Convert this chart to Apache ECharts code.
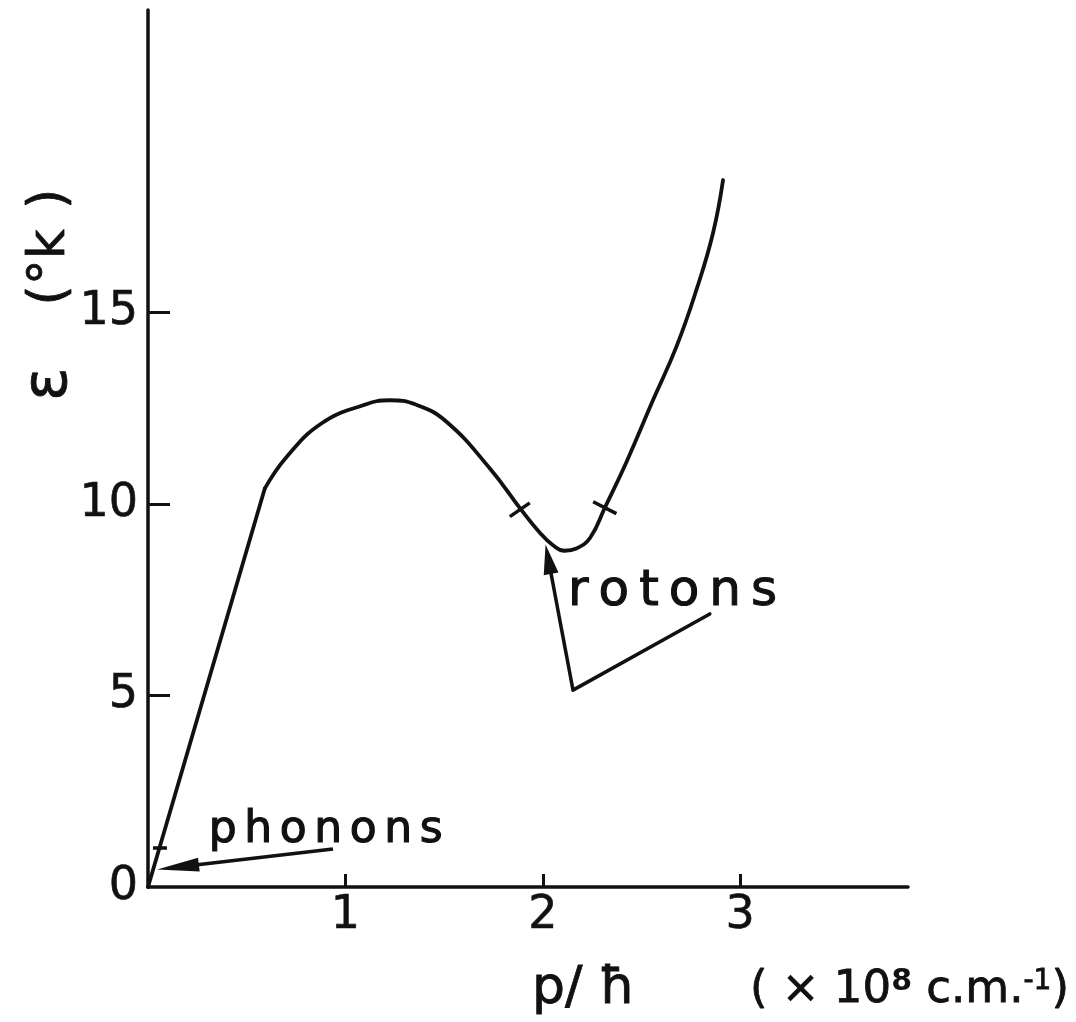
<!DOCTYPE html>
<html>
<head>
<meta charset="utf-8">
<script src="https://cdn.jsdelivr.net/npm/echarts@6.0.0/dist/echarts.min.js"></script>
<style>
  html, body { margin: 0; padding: 0; background: #ffffff; }
  #chart { width: 1076px; height: 1022px; }
</style>
</head>
<body>
<div id="chart"></div>
<script>
// Excitation spectrum of liquid helium: energy (°K) against wave number p/ħ (×10^8 cm^-1)

// Linear phonon branch, from the origin up to where the curve bends over
const phononBranch = [[0, 0], [0.592, 10.41]];

// Maxon peak, roton minimum and the rise beyond it
const rotonBranch = [
  [0.592, 10.41], [0.702, 11.23], [0.880, 12.11], [1.090, 12.58],
  [1.225, 12.71], [1.360, 12.59], [1.512, 12.15], [1.732, 10.93],
  [1.892, 9.84], [1.985, 9.25], [2.050, 8.93], [2.110, 8.78],
  [2.170, 8.84], [2.240, 9.12], [2.314, 9.90], [2.424, 11.10],
  [2.559, 12.72], [2.677, 14.11], [2.778, 15.59], [2.862, 17.07],
  [2.913, 18.46]
];

// Axis ticks and labels
const xTickValues = [1, 2, 3];
const yTickValues = [5, 10, 15];
const yLabelValues = [0, 5, 10, 15];

// Pointer lines (start, arrow-head centre) in data units
const phononArrow = [[0.937, 0.99], [0.152, 0.52]];
const rotonArrow = [[2.153, 5.14], [2.028, 8.56]];
const rotonLeader = [[2.153, 5.14], [2.846, 7.13]];

// Short strokes crossing the curve
const curveStrokes = [
  [[1.833, 9.67], [1.934, 10.03]],
  [[2.255, 10.06], [2.373, 9.75]],
  [[0.025, 1.02], [0.096, 1.02]]
];

// Axis ranges
const xMax = 3.85;
const yMax = 22.9;

const INK = '#111111';
const FONT = "'DejaVu Sans', 'Noto Sans', sans-serif";

function spaced(word, style) {
  return word.split('').map(function (c) { return '{' + style + '|' + c + '}'; }).join('');
}

function segment(pair) {
  return [{ coord: pair[0] }, { coord: pair[1] }];
}

const chart = echarts.init(document.getElementById('chart'), null, { renderer: 'canvas' });

const option = {
  backgroundColor: '#ffffff',
  animation: false,
  grid: {
    left: 148, right: 168, top: 10, bottom: 135,
    containLabel: false,
    outerBoundsMode: 'none'
  },
  xAxis: {
    type: 'value',
    min: 0,
    max: xMax,
    axisLine: { show: true, onZero: false, lineStyle: { color: INK, width: 3.5, cap: 'round' } },
    axisTick: {
      show: true, inside: true, length: 13, customValues: xTickValues,
      lineStyle: { color: INK, width: 3 }
    },
    axisLabel: {
      show: true, customValues: xTickValues, margin: 6,
      color: INK, fontFamily: FONT, fontSize: 46,
      textBorderColor: INK, textBorderWidth: 0.6
    },
    splitLine: { show: false }
  },
  yAxis: {
    type: 'value',
    min: 0,
    max: yMax,
    axisLine: { show: true, onZero: false, lineStyle: { color: INK, width: 3.5, cap: 'round' } },
    axisTick: {
      show: true, inside: true, length: 22, customValues: yTickValues,
      lineStyle: { color: INK, width: 3 }
    },
    axisLabel: {
      show: true, customValues: yLabelValues, margin: 10,
      color: INK, fontFamily: FONT, fontSize: 46,
      textBorderColor: INK, textBorderWidth: 0.6,
      padding: [10, 0, 0, 0]
    },
    splitLine: { show: false }
  },
  series: [
    {
      name: 'phonons',
      type: 'line',
      data: phononBranch,
      showSymbol: false,
      silent: true,
      lineStyle: { color: INK, width: 3.8, cap: 'round', join: 'round' },
      markLine: {
        silent: true,
        symbol: ['none', 'triangle'],
        symbolSize: [14, 42],
        label: { show: false },
        lineStyle: { color: INK, width: 3.5, type: 'solid' },
        emphasis: { disabled: true },
        data: [segment(phononArrow)]
      }
    },
    {
      name: 'rotons',
      type: 'line',
      data: rotonBranch,
      smooth: 0.45,
      showSymbol: false,
      silent: true,
      lineStyle: { color: INK, width: 3.8, cap: 'round', join: 'round' },
      markLine: {
        silent: true,
        symbol: ['none', 'triangle'],
        symbolSize: [15, 30],
        label: { show: false },
        lineStyle: { color: INK, width: 3.5, type: 'solid' },
        emphasis: { disabled: true },
        data: [segment(rotonArrow)]
      }
    },
    {
      name: 'leader',
      type: 'line',
      data: rotonLeader,
      showSymbol: false,
      silent: true,
      lineStyle: { color: INK, width: 3.5, cap: 'round' },
      markLine: {
        silent: true,
        symbol: ['none', 'none'],
        label: { show: false },
        lineStyle: { color: INK, width: 3.5, type: 'solid' },
        emphasis: { disabled: true },
        data: curveStrokes.map(segment)
      }
    }
  ],
  graphic: [
    {
      type: 'text',
      x: 205, y: 831,
      silent: true,
      style: {
        text: spaced('phonons', 'l'),
        align: 'left', verticalAlign: 'middle',
        rich: {
          l: {
            fontFamily: FONT, fontSize: 44, fill: INK,
            stroke: INK, lineWidth: 1.2,
            padding: [0, 3.8, 0, 3.8]
          }
        }
      }
    },
    {
      type: 'text',
      x: 563, y: 592,
      silent: true,
      style: {
        text: spaced('rotons', 'l'),
        align: 'left', verticalAlign: 'middle',
        rich: {
          l: {
            fontFamily: FONT, fontSize: 50, fill: INK,
            stroke: INK, lineWidth: 1.1,
            padding: [0, 5, 0, 5]
          }
        }
      }
    },
    {
      type: 'text',
      x: 532, y: 989,
      silent: true,
      style: {
        text: 'p/ ħ',
        align: 'left', verticalAlign: 'middle',
        fontFamily: FONT, fontSize: 52, fill: INK,
        stroke: INK, lineWidth: 0.8
      }
    },
    {
      type: 'text',
      x: 750, y: 990,
      silent: true,
      style: {
        text: '{n|( × 10}{b|8}{n| c.m.}{s|-1}{n|)}',
        align: 'left', verticalAlign: 'middle',
        rich: {
          n: { fontFamily: FONT, fontSize: 45, fill: INK, stroke: INK, lineWidth: 0.8 },
          b: { fontFamily: FONT, fontSize: 30, fontWeight: 'bold', fill: INK, verticalAlign: 'top' },
          s: { fontFamily: FONT, fontSize: 28, fill: INK, verticalAlign: 'top', stroke: INK, lineWidth: 0.8 }
        }
      }
    },
    {
      type: 'text',
      x: 50, y: 401,
      rotation: Math.PI / 2,
      silent: true,
      style: {
        text: '{e|ε}{g| }{p|(°k}{h| }{p|)}',
        align: 'left', verticalAlign: 'middle',
        rich: {
          e: { fontFamily: FONT, fontSize: 62, fill: INK, stroke: INK, lineWidth: 0.8 },
          g: { fontFamily: FONT, fontSize: 48, width: 62 },
          h: { fontFamily: FONT, fontSize: 48, width: 20 },
          p: { fontFamily: FONT, fontSize: 52, fill: INK, stroke: INK, lineWidth: 0.8 }
        }
      }
    }
  ]
};

chart.setOption(option);
</script>
</body>
</html>
